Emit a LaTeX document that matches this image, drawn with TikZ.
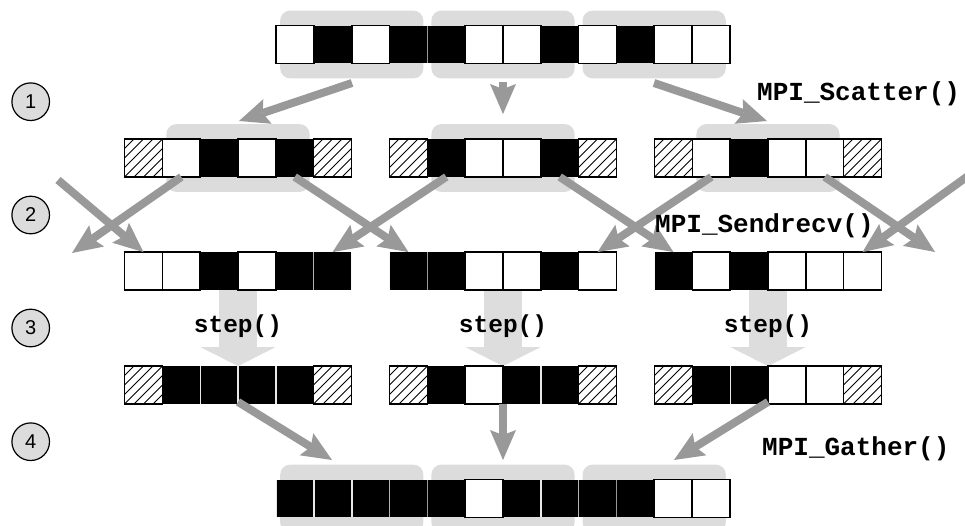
\documentclass[tikz,border=0pt]{standalone}
\usepackage{fontspec}
\setmainfont{Liberation Sans}
\newfontfamily\codefont{Liberation Mono}
\usetikzlibrary{arrows.meta}

\definecolor{bggray}{HTML}{DCDCDC}
\definecolor{arrgray}{HTML}{999999}
\definecolor{stepgray}{HTML}{DDDDDD}
\definecolor{seplight}{HTML}{E8E8E8}

\pgfdeclarelayer{back}
\pgfsetlayers{back,main}

\tikzset{
  cell/.style={draw=black, line width=1.5pt, minimum size=37.8pt,
    inner sep=0pt, outer sep=0pt},
  cellW/.style={cell, fill=white},
  % black cells: no outline, thin light seams on their sides
  cellB/.style={cell, draw=none, fill=black, path picture={
      \draw[seplight, line width=1.4pt]
        (path picture bounding box.south west) -- (path picture bounding box.north west)
        (path picture bounding box.south east) -- (path picture bounding box.north east);
      }},
  cellH/.style={cell, fill=white, path picture={
      \foreach \k in {-5,...,5}{
        \draw[line width=1pt, black]
          ([xshift=\k*9.5pt]path picture bounding box.south west) -- ++(45pt,45pt);
      }}},
  grpbg/.style={fill=bggray, rounded corners=10pt},
  flowarrow/.style={draw=arrgray, line width=8pt,
    -{Stealth[length=30pt, width=26pt, inset=5pt, line width=0pt]}},
  steparrow/.style={draw=stepgray, line width=38pt,
    -{Triangle[length=19pt, width=75pt, line width=0pt]}},
  codelabel/.style={font=\codefont\bfseries\fontsize{26}{30}\selectfont,
    inner sep=0pt, anchor=base west},
  steplabel/.style={font=\codefont\bfseries\fontsize{24.5}{28}\selectfont,
    inner sep=0pt, anchor=base},
  stagemark/.style={circle, draw=black, line width=1.2pt, fill=bggray,
    minimum size=37.6pt, inner sep=0pt, font=\fontsize{20}{24}\selectfont},
}

% one row of cells: name prefix, left x, centre y, list of kinds (B/W/H)
% black cells go first so that outlined neighbours sit on top of them
\newcommand\placecells[4]{%
  \foreach \t [count=\i] in {#4}
    {\if\t B\node[cellB] (#1\i) at ({#2+(\i-0.5)*37.8}, #3) {};\fi}%
  \foreach \t [count=\i] in {#4}
    {\if\t B\else\node[cell\t] (#1\i) at ({#2+(\i-0.5)*37.8}, #3) {};\fi}%
}

\begin{document}
\begin{tikzpicture}[x=1pt, y=-1pt]
\useasboundingbox (0,0) rectangle (965,525);

% full array before scattering
\placecells{r1-}{276.2}{44.5}{W,B,W,B,B,W,W,B,W,B,W,W}

% local blocks with ghost cells
\placecells{r2-0-}{124.6}{158}{H,W,B,W,B,H}
\placecells{r2-1-}{389.6}{158}{H,B,W,W,B,H}
\placecells{r2-2-}{654.6}{158}{H,W,B,W,W,H}

% blocks after the halo exchange
\placecells{r3-0-}{124.6}{271}{W,W,B,W,B,B}
\placecells{r3-1-}{389.6}{271}{B,B,W,W,B,W}
\placecells{r3-2-}{654.6}{271}{B,W,B,W,W,W}

% blocks after one step
\placecells{r4-0-}{124.6}{385}{H,B,B,B,B,H}
\placecells{r4-1-}{389.6}{385}{H,B,W,B,B,H}
\placecells{r4-2-}{654.6}{385}{H,B,B,W,W,H}

% gathered array
\placecells{r5-}{276.2}{498.5}{B,B,B,B,B,W,B,B,B,B,W,W}

% grey backdrops and step arrows behind the cells
\begin{pgfonlayer}{back}
  \foreach \a/\b in {1/4, 5/8, 9/12} {
    \fill[grpbg] ([xshift=4pt, yshift=15pt]r1-\a.north west)
      rectangle ([xshift=-4pt, yshift=-15pt]r1-\b.south east);
    \fill[grpbg] ([xshift=4pt, yshift=15pt]r5-\a.north west)
      rectangle ([xshift=-4pt, yshift=-15pt]r5-\b.south east);
  }
  \foreach \g in {0,1,2} {
    \fill[grpbg] ([xshift=4pt, yshift=15pt]r2-\g-2.north west)
      rectangle ([xshift=-4pt, yshift=-15pt]r2-\g-5.south east);
    \draw[steparrow] (r3-\g-3.south east) -- (r4-\g-3.north east);
  }
\end{pgfonlayer}

% step labels
\foreach \g in {0,1,2}
  \node[steplabel] (step-\g) at ({124.6+\g*265+113.4}, 332) {step()};

% stage markers
\node[stagemark] (stage1) at (30.7, 101.7) {1};
\node[stagemark] (stage2) at (30.7, 215) {2};
\node[stagemark] (stage3) at (30.7, 328) {3};
\node[stagemark] (stage4) at (30.7, 441.7) {4};

% scatter
\coordinate (scL-from) at (352, 83);  \coordinate (scL-to) at (239, 121);
\coordinate (scM-from) at (503, 82);  \coordinate (scM-to) at (503, 114);
\coordinate (scR-from) at (654, 83);  \coordinate (scR-to) at (767, 121);
\draw[flowarrow] (scL-from) -- (scL-to);
\draw[flowarrow] (scM-from) -- (scM-to);
\draw[flowarrow] (scR-from) -- (scR-to);

% halo exchange
\coordinate (wrapL-to) at (72, 253);
\coordinate (wrapR-to) at (935, 252);
\coordinate (wrapL-from) at (58, 180);
\coordinate (wrapR-from) at (968, 176);
\draw[flowarrow] (r2-0-2.south) -- (wrapL-to);
\draw[flowarrow] (r2-0-5.south) -- (r3-1-1.north);
\draw[flowarrow] (r2-1-2.south) -- (r3-0-6.north);
\draw[flowarrow] (r2-1-5.south) -- (r3-2-1.north);
\draw[flowarrow] (r2-2-2.south) -- (r3-1-6.north);
\draw[flowarrow] (r2-2-5.south) -- (wrapR-to);
\draw[flowarrow] (wrapL-from) -- (r3-0-1.north);
\draw[flowarrow] (wrapR-from) -- (r3-2-6.north);

% gather
\coordinate (gaL-to) at (332, 460);
\coordinate (gaM-to) at (503, 460);
\coordinate (gaR-to) at (674, 460);
\draw[flowarrow] ([yshift=2pt]r4-0-3.south east) -- (gaL-to);
\draw[flowarrow] (r4-1-3.south east) -- (gaM-to);
\draw[flowarrow] ([yshift=2pt]r4-2-3.south east) -- (gaR-to);

% operation names, on top of the arrows
\node[codelabel] (lscatter) at (757, 100) {MPI\_Scatter()};
\node[codelabel] (lsendrecv) at (655, 232) {MPI\_Sendrecv()};
\node[codelabel] (lgather) at (762, 455) {MPI\_Gather()};
\end{tikzpicture}
\end{document}
